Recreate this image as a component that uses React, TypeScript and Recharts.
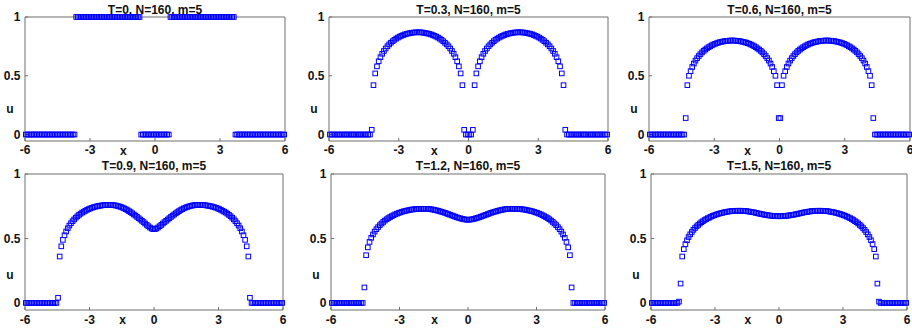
import { ScatterChart, Scatter, XAxis, YAxis, ReferenceArea } from 'recharts';

// cell centres of the N=160 grid on [-6, 6]
const N = 160;
const xGrid = Array.from({ length: N }, (_, i) => -6 + ((i + 0.5) * 12) / N);

const titles = [
  'T=0, N=160, m=5',
  'T=0.3, N=160, m=5',
  'T=0.6, N=160, m=5',
  'T=0.9, N=160, m=5',
  'T=1.2, N=160, m=5',
  'T=1.5, N=160, m=5',
];

const xTicks = [-6, -3, 0, 3, 6];
const yTicks = [0, 0.5, 1];

const uT0 = [
  0, 0, 0, 0, 0, 0, 0, 0, 0, 0,
  0, 0, 0, 0, 0, 0, 0, 0, 0, 0,
  0, 0, 0, 0, 0, 0, 0, 0, 0, 0,
  0, 1, 1, 1, 1, 1, 1, 1, 1, 1,
  1, 1, 1, 1, 1, 1, 1, 1, 1, 1,
  1, 1, 1, 1, 1, 1, 1, 1, 1, 1,
  1, 1, 1, 1, 1, 1, 1, 1, 1, 1,
  1, 0, 0, 0, 0, 0, 0, 0, 0, 0,
  0, 0, 0, 0, 0, 0, 0, 0, 0, 1,
  1, 1, 1, 1, 1, 1, 1, 1, 1, 1,
  1, 1, 1, 1, 1, 1, 1, 1, 1, 1,
  1, 1, 1, 1, 1, 1, 1, 1, 1, 1,
  1, 1, 1, 1, 1, 1, 1, 1, 1, 0,
  0, 0, 0, 0, 0, 0, 0, 0, 0, 0,
  0, 0, 0, 0, 0, 0, 0, 0, 0, 0,
  0, 0, 0, 0, 0, 0, 0, 0, 0, 0,
];

const uT03 = [
  0, 0, 0, 0, 0, 0, 0, 0, 0, 0,
  0, 0, 0, 0, 0, 0, 0, 0, 0, 0,
  0, 0, 0, 0, 0.04, 0.42, 0.52, 0.58, 0.623, 0.658,
  0.687, 0.711, 0.732, 0.751, 0.767, 0.781, 0.794, 0.806, 0.816, 0.825,
  0.833, 0.84, 0.846, 0.852, 0.856, 0.86, 0.863, 0.866, 0.868, 0.869,
  0.87, 0.87, 0.869, 0.868, 0.866, 0.863, 0.86, 0.856, 0.852, 0.846,
  0.84, 0.833, 0.825, 0.816, 0.806, 0.794, 0.781, 0.767, 0.751, 0.732,
  0.711, 0.687, 0.658, 0.623, 0.58, 0.52, 0.42, 0.04, 0, 0,
  0, 0, 0.04, 0.42, 0.52, 0.58, 0.623, 0.658, 0.687, 0.711,
  0.732, 0.751, 0.767, 0.781, 0.794, 0.806, 0.816, 0.825, 0.833, 0.84,
  0.846, 0.852, 0.856, 0.86, 0.863, 0.866, 0.868, 0.869, 0.87, 0.87,
  0.869, 0.868, 0.866, 0.863, 0.86, 0.856, 0.852, 0.846, 0.84, 0.833,
  0.825, 0.816, 0.806, 0.794, 0.781, 0.767, 0.751, 0.732, 0.711, 0.687,
  0.658, 0.623, 0.58, 0.52, 0.42, 0.04, 0, 0, 0, 0,
  0, 0, 0, 0, 0, 0, 0, 0, 0, 0,
  0, 0, 0, 0, 0, 0, 0, 0, 0, 0,
];

const uT06 = [
  0, 0, 0, 0, 0, 0, 0, 0, 0, 0,
  0, 0, 0, 0, 0, 0, 0, 0, 0, 0,
  0, 0, 0.14, 0.42, 0.5, 0.539, 0.575, 0.604, 0.629, 0.65,
  0.668, 0.684, 0.699, 0.712, 0.723, 0.733, 0.743, 0.751, 0.759, 0.766,
  0.772, 0.777, 0.782, 0.786, 0.789, 0.792, 0.795, 0.797, 0.798, 0.799,
  0.8, 0.8, 0.799, 0.798, 0.797, 0.795, 0.792, 0.789, 0.786, 0.782,
  0.777, 0.772, 0.766, 0.759, 0.751, 0.743, 0.733, 0.723, 0.712, 0.699,
  0.684, 0.668, 0.65, 0.629, 0.604, 0.575, 0.539, 0.5, 0.42, 0.14,
  0.14, 0.42, 0.5, 0.539, 0.575, 0.604, 0.629, 0.65, 0.668, 0.684,
  0.699, 0.712, 0.723, 0.733, 0.743, 0.751, 0.759, 0.766, 0.772, 0.777,
  0.782, 0.786, 0.789, 0.792, 0.795, 0.797, 0.798, 0.799, 0.8, 0.8,
  0.799, 0.798, 0.797, 0.795, 0.792, 0.789, 0.786, 0.782, 0.777, 0.772,
  0.766, 0.759, 0.751, 0.743, 0.733, 0.723, 0.712, 0.699, 0.684, 0.668,
  0.65, 0.629, 0.604, 0.575, 0.539, 0.5, 0.42, 0.14, 0, 0,
  0, 0, 0, 0, 0, 0, 0, 0, 0, 0,
  0, 0, 0, 0, 0, 0, 0, 0, 0, 0,
];

const uT09 = [
  0, 0, 0, 0, 0, 0, 0, 0, 0, 0,
  0, 0, 0, 0, 0, 0, 0, 0, 0, 0,
  0.04, 0.36, 0.439, 0.489, 0.525, 0.554, 0.579, 0.6, 0.618, 0.634,
  0.648, 0.661, 0.672, 0.683, 0.692, 0.701, 0.708, 0.715, 0.722, 0.728,
  0.733, 0.738, 0.742, 0.746, 0.749, 0.752, 0.754, 0.756, 0.758, 0.759,
  0.76, 0.76, 0.76, 0.76, 0.759, 0.757, 0.755, 0.752, 0.748, 0.744,
  0.739, 0.733, 0.727, 0.72, 0.712, 0.704, 0.695, 0.686, 0.677, 0.667,
  0.657, 0.647, 0.637, 0.627, 0.616, 0.605, 0.595, 0.585, 0.577, 0.572,
  0.572, 0.577, 0.585, 0.595, 0.605, 0.616, 0.627, 0.637, 0.647, 0.657,
  0.667, 0.677, 0.686, 0.695, 0.704, 0.712, 0.72, 0.727, 0.733, 0.739,
  0.744, 0.748, 0.752, 0.755, 0.757, 0.759, 0.76, 0.76, 0.76, 0.76,
  0.759, 0.758, 0.756, 0.754, 0.752, 0.749, 0.746, 0.742, 0.738, 0.733,
  0.728, 0.722, 0.715, 0.708, 0.701, 0.692, 0.683, 0.672, 0.661, 0.648,
  0.634, 0.618, 0.6, 0.579, 0.554, 0.525, 0.489, 0.439, 0.36, 0.04,
  0, 0, 0, 0, 0, 0, 0, 0, 0, 0,
  0, 0, 0, 0, 0, 0, 0, 0, 0, 0,
];

const uT12 = [
  0, 0, 0, 0, 0, 0, 0, 0, 0, 0,
  0, 0, 0, 0, 0, 0, 0, 0, 0, 0.12,
  0.37, 0.431, 0.473, 0.505, 0.531, 0.553, 0.572, 0.588, 0.603, 0.616,
  0.628, 0.639, 0.649, 0.658, 0.666, 0.673, 0.68, 0.687, 0.692, 0.698,
  0.702, 0.707, 0.711, 0.714, 0.717, 0.72, 0.723, 0.725, 0.726, 0.728,
  0.729, 0.729, 0.73, 0.73, 0.73, 0.73, 0.73, 0.728, 0.726, 0.724,
  0.721, 0.718, 0.715, 0.711, 0.707, 0.703, 0.699, 0.694, 0.689, 0.684,
  0.679, 0.674, 0.669, 0.664, 0.66, 0.656, 0.652, 0.649, 0.647, 0.645,
  0.645, 0.647, 0.649, 0.652, 0.656, 0.66, 0.664, 0.669, 0.674, 0.679,
  0.684, 0.689, 0.694, 0.699, 0.703, 0.707, 0.711, 0.715, 0.718, 0.721,
  0.724, 0.726, 0.728, 0.73, 0.73, 0.73, 0.73, 0.73, 0.729, 0.729,
  0.728, 0.726, 0.725, 0.723, 0.72, 0.717, 0.714, 0.711, 0.707, 0.702,
  0.698, 0.692, 0.687, 0.68, 0.673, 0.666, 0.658, 0.649, 0.639, 0.628,
  0.616, 0.603, 0.588, 0.572, 0.553, 0.531, 0.505, 0.473, 0.431, 0.37,
  0.12, 0, 0, 0, 0, 0, 0, 0, 0, 0,
  0, 0, 0, 0, 0, 0, 0, 0, 0, 0,
];

const uT15 = [
  0, 0, 0, 0, 0, 0, 0, 0, 0, 0,
  0, 0, 0, 0, 0, 0, 0, 0.01, 0.15, 0.36,
  0.417, 0.456, 0.486, 0.511, 0.532, 0.55, 0.567, 0.581, 0.594, 0.605,
  0.616, 0.626, 0.634, 0.643, 0.65, 0.657, 0.663, 0.669, 0.675, 0.68,
  0.684, 0.689, 0.692, 0.696, 0.699, 0.702, 0.705, 0.707, 0.709, 0.711,
  0.712, 0.713, 0.714, 0.715, 0.715, 0.715, 0.715, 0.714, 0.713, 0.712,
  0.71, 0.708, 0.706, 0.704, 0.702, 0.699, 0.696, 0.693, 0.69, 0.688,
  0.685, 0.683, 0.681, 0.679, 0.677, 0.676, 0.675, 0.674, 0.673, 0.672,
  0.672, 0.673, 0.674, 0.675, 0.676, 0.677, 0.679, 0.681, 0.683, 0.685,
  0.688, 0.69, 0.693, 0.696, 0.699, 0.702, 0.704, 0.706, 0.708, 0.71,
  0.712, 0.713, 0.714, 0.715, 0.715, 0.715, 0.715, 0.714, 0.713, 0.712,
  0.711, 0.709, 0.707, 0.705, 0.702, 0.699, 0.696, 0.692, 0.689, 0.684,
  0.68, 0.675, 0.669, 0.663, 0.657, 0.65, 0.643, 0.634, 0.626, 0.616,
  0.605, 0.594, 0.581, 0.567, 0.55, 0.532, 0.511, 0.486, 0.456, 0.417,
  0.36, 0.15, 0.01, 0, 0, 0, 0, 0, 0, 0,
  0, 0, 0, 0, 0, 0, 0, 0, 0, 0,
];

const series = [uT0, uT03, uT06, uT09, uT12, uT15];

// plot boxes in page pixels
const boxes = [
  { l: 25, r: 285, t: 17, b: 141 },
  { l: 329, r: 608, t: 17, b: 141 },
  { l: 649, r: 910, t: 17, b: 141 },
  { l: 25, r: 283, t: 174, b: 310 },
  { l: 331, r: 605, t: 174, b: 310 },
  { l: 651, r: 907, t: 174, b: 310 },
];

const YW = 24;
const XH = 20;
const Y_MIN = -0.055;
const FONT = '"Liberation Sans", Arial, Helvetica, sans-serif';
const BLUE = '#0000ff';
const GREY = '#6e6e6e';
const tickStyle = { fontSize: 12, fontWeight: 700, fill: '#111', fontFamily: FONT };

const Square = (p: any) => {
  if (p.cx == null || p.cy == null) return null;
  const s = 4.6;
  return (
    <rect x={p.cx - s / 2} y={p.cy - s / 2} width={s} height={s} fill="none" stroke={BLUE} strokeWidth={1} />
  );
};

const XName = (p: any) => {
  const vb = p.viewBox;
  return (
    <text
      x={vb.x + vb.width * 0.378}
      y={vb.y + 9.5}
      dominantBaseline="central"
      textAnchor="middle"
      style={tickStyle}
    >
      x
    </text>
  );
};

const YName = (p: any) => {
  const vb = p.viewBox;
  return (
    <text
      x={vb.x + vb.width - 15}
      y={vb.y + (vb.height * (1 - 0.22)) / (1 - Y_MIN)}
      dominantBaseline="central"
      textAnchor="middle"
      style={tickStyle}
    >
      u
    </text>
  );
};

function Panel({ idx }: { idx: number }) {
  const row = idx < 3 ? 0 : 1;
  const col = idx % 3;
  const left = col * 304;
  const top = row === 0 ? 0 : 165;
  const width = 316;
  const height = row === 0 ? 165 : 166;
  const bx = boxes[idx];
  // top and right tick axes take 1px each
  const margin = {
    left: bx.l - left - YW,
    right: left + width - bx.r - 1,
    top: bx.t - top - 1,
    bottom: top + height - bx.b - XH,
  };
  const pts = xGrid.map((x, i) => ({ x, u: series[idx][i] }));
  return (
    <div style={{ position: 'absolute', left, top, width, height }}>
      <div
        style={{
          position: 'absolute',
          left: bx.l - left,
          width: bx.r - bx.l,
          top: (row === 0 ? 10 : 166) - top - 7,
          height: 14,
          lineHeight: '14px',
          textAlign: 'center',
          font: `bold 12px ${FONT}`,
          color: '#111',
          whiteSpace: 'nowrap',
        }}
      >
        {titles[idx]}
      </div>
      <ScatterChart width={width} height={height} margin={margin}>
        <XAxis
          type="number"
          dataKey="x"
          domain={[-6, 6]}
          ticks={xTicks}
          height={XH}
          axisLine={false}
          tickLine={{ stroke: GREY }}
          tickSize={-3}
          tickMargin={row === 0 ? 7 : 8}
          tick={tickStyle}
          interval={0}
          label={<XName />}
        />
        <XAxis
          xAxisId="top"
          orientation="top"
          type="number"
          domain={[-6, 6]}
          allowDataOverflow
          ticks={xTicks}
          height={1}
          axisLine={false}
          tickLine={{ stroke: GREY }}
          tickSize={-3}
          tick={false}
          interval={0}
        />
        <YAxis
          type="number"
          dataKey="u"
          domain={[Y_MIN, 1]}
          ticks={yTicks}
          width={YW}
          axisLine={false}
          tickLine={{ stroke: GREY }}
          tickSize={-3}
          tickMargin={7.5}
          tick={tickStyle}
          interval={0}
          label={<YName />}
        />
        <YAxis
          yAxisId="right"
          orientation="right"
          type="number"
          domain={[Y_MIN, 1]}
          allowDataOverflow
          ticks={yTicks}
          width={1}
          axisLine={false}
          tickLine={{ stroke: GREY }}
          tickSize={-3}
          tick={false}
          interval={0}
        />
        <ReferenceArea x1={-6} x2={6} y1={Y_MIN} y2={1} fill="none" stroke={GREY} strokeWidth={1} />
        <Scatter data={pts} isAnimationActive={false} shape={Square} />
      </ScatterChart>
    </div>
  );
}

export default function App() {
  return (
    <div
      style={{
        position: 'absolute',
        left: 0,
        top: 0,
        width: 912,
        height: 331,
        overflow: 'hidden',
        background: '#fff',
      }}
    >
      {[0, 1, 2, 3, 4, 5].map((i) => (
        <Panel key={i} idx={i} />
      ))}
    </div>
  );
}
